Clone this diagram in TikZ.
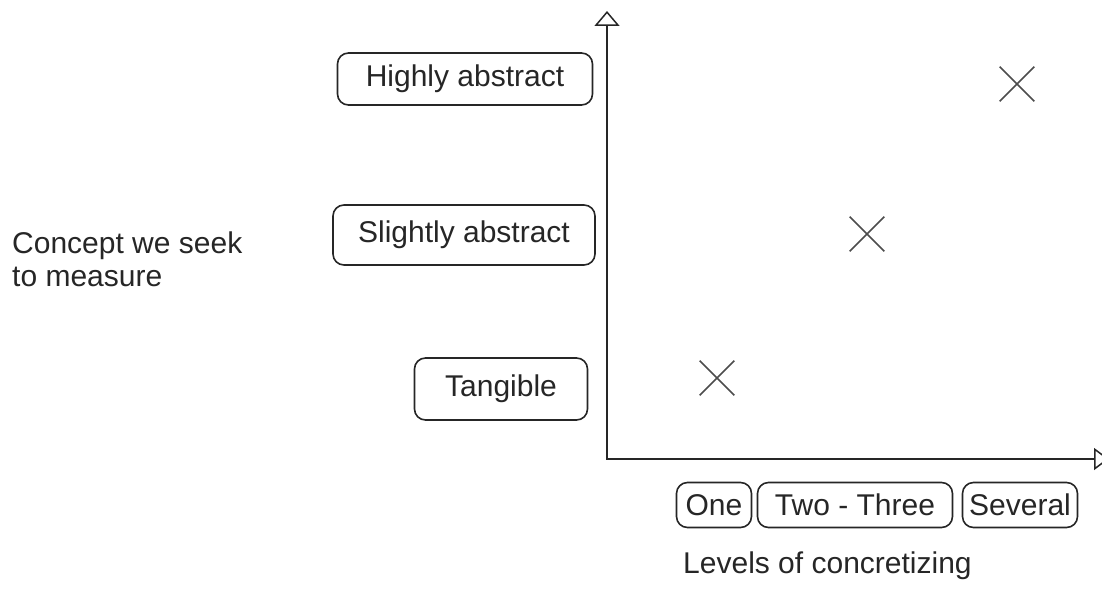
\documentclass[tikz,border=0pt]{standalone}
\usepackage{fontspec}
\setmainfont{Liberation Sans}
\usetikzlibrary{arrows.meta,shapes.misc}
\begin{document}
\begin{tikzpicture}[x=1pt,y=-1pt,
  lbl/.style={font=\fontsize{30}{33}\selectfont, text=black!85, inner sep=0pt},
  rbox/.style={lbl, draw=black!85, line width=1.6pt, rounded corners=11pt, minimum height=#1},
  rbox/.default=60pt,
  mark/.style={}, 
  xmark/.style={cross out, draw=black!70, line width=1.6pt, minimum size=33pt, inner sep=0pt},
  axis/.style={line width=2pt, black!85}
]
\useasboundingbox (0,0) rectangle (1102,594);
% boxes
\node[rbox=52pt, minimum width=255pt] (ha) at (465,79) {Highly abstract};
\node[rbox=60pt, minimum width=262pt] (sa) at (464,235) {Slightly abstract};
\node[rbox=62pt, minimum width=173pt] (tg) at (501,389) {Tangible};
\node[rbox=45pt, minimum width=75pt] (one) at (714,505) {One};
\node[rbox=45pt, minimum width=195pt] (two) at (855,505) {Two - Three};
\node[rbox=45pt, minimum width=115pt] (sev) at (1020,505) {Several};
% labels
\node[lbl, anchor=west, align=left] (concept) at (12,259) {Concept we seek\\to measure};
\node[lbl, anchor=west] (levels) at (683,566) {Levels of concretizing};
% marks
\node[xmark] (m1) at (717,378) {};
\node[xmark] (m2) at (867,234) {};
\node[xmark] (m3) at (1017,84) {};
% axes
\coordinate (origin) at (607,459);
\coordinate (ytop) at (607,11);
\coordinate (xend) at (1109,459);
\draw[axis, {Triangle[open,length=15pt,width=25pt,line width=1.5pt]}-{Triangle[open,length=15pt,width=22pt,line width=1.5pt]}] (ytop) -- (origin) -- (xend);
\end{tikzpicture}
\end{document}
